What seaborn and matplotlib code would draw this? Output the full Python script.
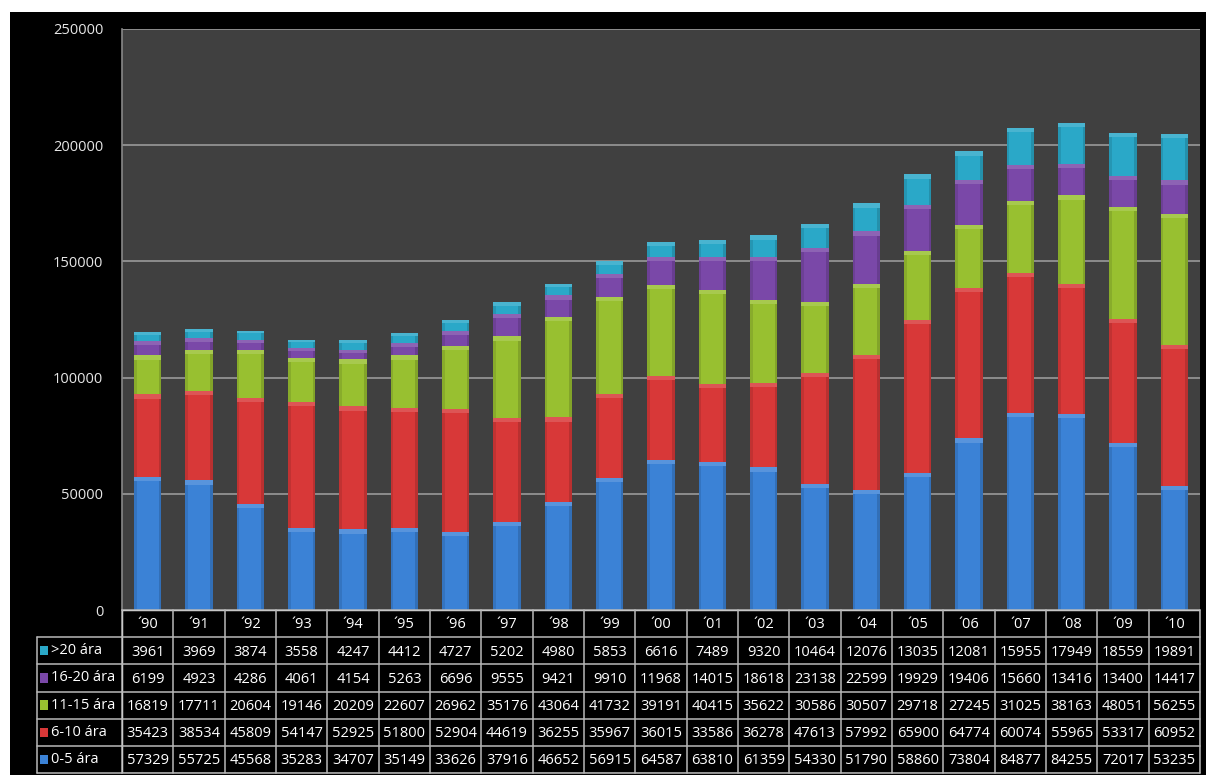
import matplotlib
matplotlib.use("Agg")
import matplotlib.pyplot as plt
import seaborn as sns
import pandas as pd
import numpy as np
from matplotlib.patches import Rectangle

years = ["´90", "´91", "´92", "´93", "´94", "´95", "´96", "´97", "´98", "´99", "´00",
         "´01", "´02", "´03", "´04", "´05", "´06", "´07", "´08", "´09", "´10"]
age_0_5 = [57329, 55725, 45568, 35283, 34707, 35149, 33626, 37916, 46652, 56915, 64587,
           63810, 61359, 54330, 51790, 58860, 73804, 84877, 84255, 72017, 53235]
age_6_10 = [35423, 38534, 45809, 54147, 52925, 51800, 52904, 44619, 36255, 35967, 36015,
            33586, 36278, 47613, 57992, 65900, 64774, 60074, 55965, 53317, 60952]
age_11_15 = [16819, 17711, 20604, 19146, 20209, 22607, 26962, 35176, 43064, 41732, 39191,
             40415, 35622, 30586, 30507, 29718, 27245, 31025, 38163, 48051, 56255]
age_16_20 = [6199, 4923, 4286, 4061, 4154, 5263, 6696, 9555, 9421, 9910, 11968,
             14015, 18618, 23138, 22599, 19929, 19406, 15660, 13416, 13400, 14417]
age_20p = [3961, 3969, 3874, 3558, 4247, 4412, 4727, 5202, 4980, 5853, 6616,
           7489, 9320, 10464, 12076, 13035, 12081, 15955, 17949, 18559, 19891]
series_names = ["0-5 ára", "6-10 ára", "11-15 ára", "16-20 ára", ">20 ára"]
series_values = [age_0_5, age_6_10, age_11_15, age_16_20, age_20p]
colors = ["#3b82d6", "#d83838", "#98c030", "#7a48a8", "#2aa8c8"]
y_ticks = [0, 50000, 100000, 150000, 200000, 250000]

sns.set_theme(style="dark")
plt.rcParams["font.family"] = ["Open Sans", "DejaVu Sans"]

W, H = 1206, 775
fig = plt.figure(figsize=(W / 100, H / 100), dpi=100, facecolor="white")
fig.patches.append(Rectangle((10 / W, 0), 1 - 10 / W, (H - 12) / H,
                             transform=fig.transFigure, facecolor="black",
                             edgecolor="none", zorder=-10))

def fx(px):
    return px / W

def fy(py):
    return (H - py) / H

ax = fig.add_axes([fx(122), fy(610), fx(1200) - fx(122), fy(29) - fy(610)])
ax.set_facecolor("#404040")

# stacked bars, built from cumulative sums
arr = np.array(series_values, dtype=float)
cum = np.cumsum(arr, axis=0)
df = pd.DataFrame({"year": years})
for i in range(len(series_names) - 1, -1, -1):
    df["cum"] = cum[i]
    sns.barplot(data=df, x="year", y="cum", order=years, color=colors[i],
                saturation=1, width=0.53, ax=ax, linewidth=0, zorder=3)

# subtle shading on each segment (gradient feel)
bottoms = np.vstack([np.zeros(len(years)), cum[:-1]])
for i in range(len(series_names)):
    for j in range(len(years)):
        top = cum[i][j]
        seg = arr[i][j]
        cap = min(1800, seg * 0.3)
        ax.add_patch(Rectangle((j - 0.265, top - cap), 0.53, cap,
                               facecolor="white", alpha=0.15, linewidth=0, zorder=4))
        ax.add_patch(Rectangle((j - 0.265, bottoms[i][j]), 0.05, seg - cap,
                               facecolor="black", alpha=0.10, linewidth=0, zorder=4))
        ax.add_patch(Rectangle((j + 0.215, bottoms[i][j]), 0.05, seg - cap,
                               facecolor="black", alpha=0.14, linewidth=0, zorder=4))

ax.set_xlim(-0.5, len(years) - 0.5)
ax.set_ylim(0, 250000)
ax.set_yticks(y_ticks)
ax.set_yticklabels([str(v) for v in y_ticks], color="#e6e6e6", fontsize=10.5)
ax.tick_params(axis="y", length=0, pad=13.5)
ax.set_xticks([])
ax.set_xlabel("")
ax.set_ylabel("")
ax.grid(False)
for v in y_ticks[1:]:
    ax.axhline(v, color="#9a9a9a", linewidth=1.2, zorder=1)
for s in ["right", "bottom", "top"]:
    ax.spines[s].set_visible(False)
ax.spines["left"].set_color("#888888")
ax.spines["left"].set_linewidth(1.2)

# data table
tax = fig.add_axes([fx(122), fy(773), fx(1200) - fx(122), fy(610) - fy(773)])
tax.set_xlim(-0.5, len(years) - 0.5)
tax.set_ylim(6, 0)
tax.axis("off")
tax.add_patch(Rectangle((-0.5, 0), len(years), 6, facecolor="black", zorder=0))
grid_c = "#b8b8b8"
for k in range(len(years) + 1):
    tax.plot([k - 0.5, k - 0.5], [0, 6], color=grid_c, lw=1.1, clip_on=False)
for r in range(7):
    tax.plot([-0.5, len(years) - 0.5], [r, r], color=grid_c, lw=1.1, clip_on=False)
for j, y in enumerate(years):
    tax.text(j, 0.55, y, ha="center", va="center", color="white", fontsize=10.5)
row_order = list(range(len(series_names) - 1, -1, -1))
for r, si in enumerate(row_order):
    for j in range(len(years)):
        tax.text(j, r + 1.55, str(series_values[si][j]), ha="center", va="center",
                 color="white", fontsize=10.5)

lax = fig.add_axes([fx(37), fy(773), fx(122) - fx(37), fy(610) - fy(773)])
lax.set_xlim(0, 1)
lax.set_ylim(6, 0)
lax.axis("off")
for r in range(1, 7):
    lax.plot([0, 1], [r, r], color=grid_c, lw=1.1, clip_on=False)
lax.plot([0, 0], [1, 6], color=grid_c, lw=1.1, clip_on=False)
for r, si in enumerate(row_order):
    lax.add_patch(Rectangle((0.04, r + 1.33), 0.095, 0.34, facecolor=colors[si],
                            edgecolor="none"))
    lax.text(0.16, r + 1.5, series_names[si], ha="left", va="center",
             color="white", fontsize=10.5)

fig.savefig("out.png", dpi=100, facecolor="white")
